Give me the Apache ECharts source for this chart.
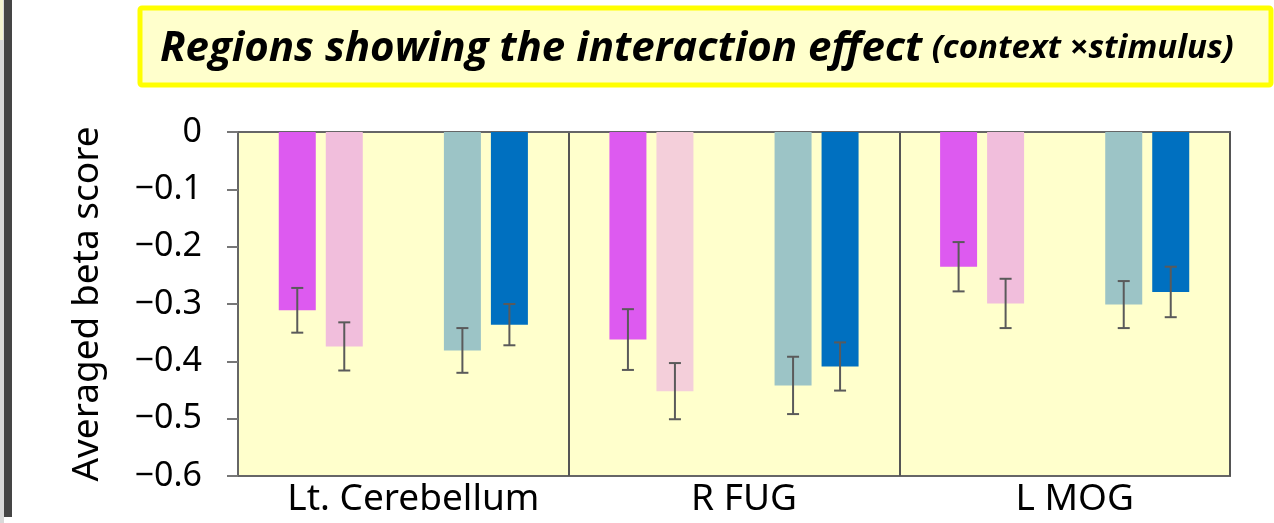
<!DOCTYPE html>
<html>
<head>
<meta charset="utf-8">
<style>
  html, body { margin: 0; padding: 0; background: #ffffff; }
  #chart { width: 1274px; height: 523px; }
</style>
<script src="https://cdn.jsdelivr.net/npm/echarts@6/dist/echarts.min.js"></script>
</head>
<body>
<div id="chart"></div>
<script>
// ---- data ----
const categories = ['Lt. Cerebellum', 'R FUG', 'L MOG'];
const seriesNames = ['Condition 1', 'Condition 2', 'Condition 3', 'Condition 4'];
const cond1Values = [-0.311, -0.362, -0.235];
const cond2Values = [-0.374, -0.452, -0.299];
const cond3Values = [-0.381, -0.442, -0.301];
const cond4Values = [-0.336, -0.409, -0.279];
const cond1Errors = [0.039, 0.053, 0.043];
const cond2Errors = [0.042, 0.049, 0.043];
const cond3Errors = [0.039, 0.050, 0.041];
const cond4Errors = [0.036, 0.042, 0.044];
const yTicks = [0, -0.1, -0.2, -0.3, -0.4, -0.5, -0.6];
const titleMain = 'Regions showing the interaction effect';
const titleSub = '(context \u00D7stimulus)';
const yAxisName = 'Averaged beta score';

// ---- styles / layout ----
const BAR_W = 37;
const GAP_PCT = 10 / 37;
const SPACER_W = 56;
const colors = ['#DD5AF0', '#F1BEDC', '#9CC4C6', '#0070C0'];
const pinkAlt = '#F4CFDA';
const FONT = '"Noto Sans", "Open Sans", sans-serif';
const TITLE_FONT = '"Open Sans", "Noto Sans", sans-serif';

const values = [cond1Values, cond2Values, cond3Values, cond4Values];
const errors = [cond1Errors, cond2Errors, cond3Errors, cond4Errors];

// bar centre offsets (px from category centre) matching ECharts bar layout
const widths = [BAR_W, BAR_W, SPACER_W, BAR_W, BAR_W];
let total = 0;
widths.forEach(w => { total += w * (1 + GAP_PCT); });
total -= widths[widths.length - 1] * GAP_PCT;
const centres = [];
let off = -total / 2;
widths.forEach(w => { centres.push(off + w / 2); off += w * (1 + GAP_PCT); });
const barOffsets = [centres[0], centres[1], centres[3], centres[4]];

const chart = echarts.init(document.getElementById('chart'), null, { renderer: 'canvas' });

const series = [];
[0, 1, 'spacer', 2, 3].forEach(k => {
  if (k === 'spacer') {
    series.push({
      type: 'bar', name: 'spacer', data: categories.map(() => '-'),
      barWidth: SPACER_W, barGap: (GAP_PCT * 100) + '%', silent: true,
      itemStyle: { color: 'transparent' }
    });
    return;
  }
  series.push({
    type: 'bar',
    name: seriesNames[k],
    data: values[k],
    barWidth: BAR_W,
    barGap: (GAP_PCT * 100) + '%',
    itemStyle: {
      color: k === 1 ? (p => p.dataIndex === 1 ? pinkAlt : colors[1]) : colors[k]
    },
    z: 2
  });
});
[0, 1, 2, 3].forEach(k => {
  series.push({
    type: 'custom',
    name: seriesNames[k] + ' error',
    data: categories.map((c, i) => [i, values[k][i], errors[k][i]]),
    encode: { x: 0, y: 1 },
    z: 5,
    silent: true,
    renderItem: function (params, api) {
      const ci = api.value(0);
      const m = api.value(1);
      const e = api.value(2);
      const top = api.coord([ci, m + e]);
      const bot = api.coord([ci, m - e]);
      const x = top[0] + barOffsets[k];
      const cap = 6;
      const st = { stroke: '#5a5a5a', lineWidth: 2 };
      return {
        type: 'group',
        children: [
          { type: 'line', shape: { x1: x, y1: top[1], x2: x, y2: bot[1] }, style: st },
          { type: 'line', shape: { x1: x - cap, y1: top[1], x2: x + cap, y2: top[1] }, style: st },
          { type: 'line', shape: { x1: x - cap, y1: bot[1], x2: x + cap, y2: bot[1] }, style: st }
        ]
      };
    }
  });
});

const option = {
  animation: false,
  backgroundColor: '#ffffff',
  grid: {
    left: 238, right: 44, top: 132, bottom: 47,
    show: true, backgroundColor: '#FFFFCC', borderColor: '#666666', borderWidth: 2
  },
  xAxis: {
    type: 'category',
    data: categories,
    boundaryGap: true,
    axisLine: { show: true, lineStyle: { color: '#666666', width: 2 } },
    axisTick: { show: false },
    splitLine: { show: true, lineStyle: { color: '#555555', width: 2 } },
    axisLabel: { color: '#000000', fontSize: 37, fontFamily: FONT, margin: 5, padding: [0, 0, 0, 20] }
  },
  yAxis: {
    type: 'value',
    min: Math.min(...yTicks),
    max: Math.max(...yTicks),
    interval: 0.1,
    name: yAxisName,
    nameLocation: 'middle',
    nameRotate: 90,
    nameGap: 132,
    nameTextStyle: { color: '#000000', fontSize: 37, fontFamily: FONT },
    axisLine: { show: true, lineStyle: { color: '#666666', width: 2 } },
    axisTick: { show: true, inside: false, length: 11, lineStyle: { color: '#777777', width: 2 } },
    splitLine: { show: false },
    axisLabel: {
      color: '#000000', fontSize: 34, fontFamily: FONT, margin: 36,
      formatter: v => {
        const r = Math.round(v * 10) / 10;
        return r === 0 ? '0' : String(r).replace('-', '\u2212');
      }
    }
  },
  graphic: [
    { type: 'rect', left: 0, top: 0, shape: { width: 4, height: 523 }, style: { fill: '#d9d9d9' }, silent: true },
    { type: 'rect', left: 0, top: 0, shape: { width: 3, height: 40 }, style: { fill: '#f3f3d0' }, silent: true },
    { type: 'rect', left: 4, top: 0, shape: { width: 8, height: 517 }, style: { fill: '#454545' }, silent: true },
    {
      type: 'rect', silent: true,
      shape: { x: 140, y: 8, width: 1131, height: 77, r: 2 },
      style: { fill: '#FFFFCC', stroke: '#FFFF00', lineWidth: 5 }
    },
    {
      type: 'text', silent: true,
      x: 160, y: 49,
      style: {
        text: '{a|' + titleMain + '} {b|' + titleSub + '}',
        verticalAlign: 'middle',
        rich: {
          a: { fontSize: 42, fontWeight: 'bold', fontStyle: 'italic', fontFamily: TITLE_FONT, fill: '#000000' },
          b: { fontSize: 33, fontWeight: 'bold', fontStyle: 'italic', fontFamily: TITLE_FONT, fill: '#000000', padding: [0, 0, 0, 6] }
        }
      }
    }
  ],
  series: series
};

chart.setOption(option);
</script>
</body>
</html>
